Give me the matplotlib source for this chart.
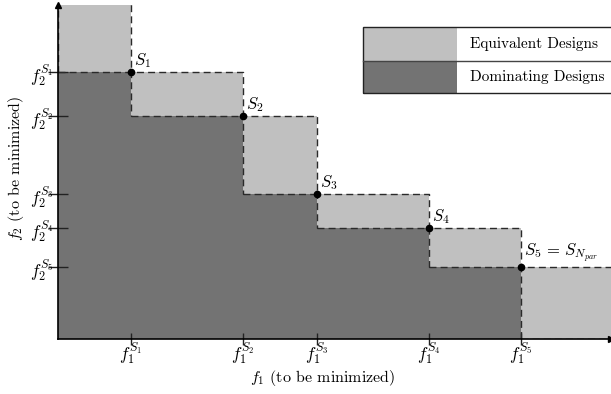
import matplotlib
matplotlib.use("Agg")
import matplotlib.pyplot as plt
from matplotlib.patches import Rectangle

plt.rcParams.update({
    "font.family": "cmr10", "mathtext.fontset": "cm", "font.size": 11,
    "axes.unicode_minus": False, "axes.formatter.use_mathtext": True})

# Pareto points S1..S5 (arbitrary units)
f1 = [73, 185, 259, 371, 463]
f2 = [267, 223, 145, 111, 72]
names = ["$S_1$", "$S_2$", "$S_3$", "$S_4$", r"$S_5\,=\,S_{N_{par}}$"]
xticklabels = [r"$f_1^{S_%d}$" % (i + 1) for i in range(5)]
yticklabels = [r"$f_2^{S_%d}$" % (i + 1) for i in range(5)]
legend_labels = ["Equivalent Designs", "Dominating Designs"]

XMAX, YMAX = 553, 334
LIGHT, DARK = "#c0c0c0", "#737373"
DASH = dict(ls=(0, (5, 3)), lw=1.0, color="#2a2a2a")

fig = plt.figure(figsize=(6.11, 3.94), dpi=100)
ax = fig.add_axes([58 / 611, 55 / 394, 553 / 611, 334 / 394])
ax.set_xlim(0, XMAX); ax.set_ylim(0, YMAX)

# dominating region (staircase under the front)
xs = [0] + f1
for i in range(5):
    ax.add_patch(Rectangle((xs[i], 0), xs[i + 1] - xs[i], f2[i], fc=DARK, ec="none", zorder=1))

# equivalent regions, each outlined dashed
boxes = [(0, f2[0], f1[0], YMAX + 10)]
for i in range(4):
    boxes.append((f1[i], f2[i + 1], f1[i + 1], f2[i]))
boxes.append((f1[4], 0, XMAX + 10, f2[4]))
for x0, y0, x1, y1 in boxes:
    ax.add_patch(Rectangle((x0, y0), x1 - x0, y1 - y0, fc=LIGHT, ec="none", zorder=1))
    ax.plot([x0, x1, x1, x0, x0], [y0, y0, y1, y1, y0], zorder=2, clip_on=True, **DASH)

# points + labels
ax.plot(f1, f2, "o", color="black", ms=4.5, zorder=4)
for x, y, n in zip(f1, f2, names):
    ax.text(x + 3, y + 2, n, ha="left", va="bottom", fontsize=12, zorder=5)

# axes styling
for s in ["top", "right"]:
    ax.spines[s].set_visible(False)
for s in ["left", "bottom"]:
    ax.spines[s].set_linewidth(1.2); ax.spines[s].set_zorder(6)
ax.set_xticks(f1); ax.set_xticklabels(xticklabels, fontsize=12.5)
ax.set_yticks(f2); ax.set_yticklabels(yticklabels, fontsize=12.5)
ax.tick_params(axis="x", direction="inout", length=9, width=1, pad=-3, color="#222222")
ax.tick_params(axis="y", direction="inout", length=14, width=1, pad=-4, color="#222222")
ax.plot(1, 0, ">", color="black", ms=4, transform=ax.transAxes, clip_on=False, zorder=7)
ax.plot(0, 1, "^", color="black", ms=4, transform=ax.transAxes, clip_on=False, zorder=7)

# legend drawn as a small table
lx0, lx1, lxt, ly0, ly1, ly2 = 305, 560, 399, 246, 278, 312
ax.add_patch(Rectangle((lx0, ly1), lxt - lx0, ly2 - ly1, fc=LIGHT, ec="none", zorder=8, clip_on=False))
ax.add_patch(Rectangle((lx0, ly0), lxt - lx0, ly1 - ly0, fc=DARK, ec="none", zorder=8, clip_on=False))
ax.add_patch(Rectangle((lxt, ly0), lx1 - lxt, ly2 - ly0, fc="white", ec="none", zorder=8, clip_on=False))
ax.add_patch(Rectangle((lx0, ly0), lx1 - lx0, ly2 - ly0, fc="none", ec="#222222", lw=1.0, zorder=9, clip_on=False))
ax.plot([lx0, lx1], [ly1, ly1], color="#444444", lw=1.0, zorder=9, clip_on=False)
ax.text(412, (ly1 + ly2) / 2, legend_labels[0], va="center", ha="left", fontsize=11, zorder=10)
ax.text(412, (ly0 + ly1) / 2, legend_labels[1], va="center", ha="left", fontsize=11, zorder=10)

fig.text(323 / 611, 1 - 378 / 394, "$f_1$ (to be minimized)", ha="center", va="center", fontsize=11.5)
fig.text(16 / 611, 1 - 168 / 394, "$f_2$ (to be minimized)", ha="center", va="center",
         rotation=90, fontsize=11.5)

fig.savefig("out.png", dpi=100)
